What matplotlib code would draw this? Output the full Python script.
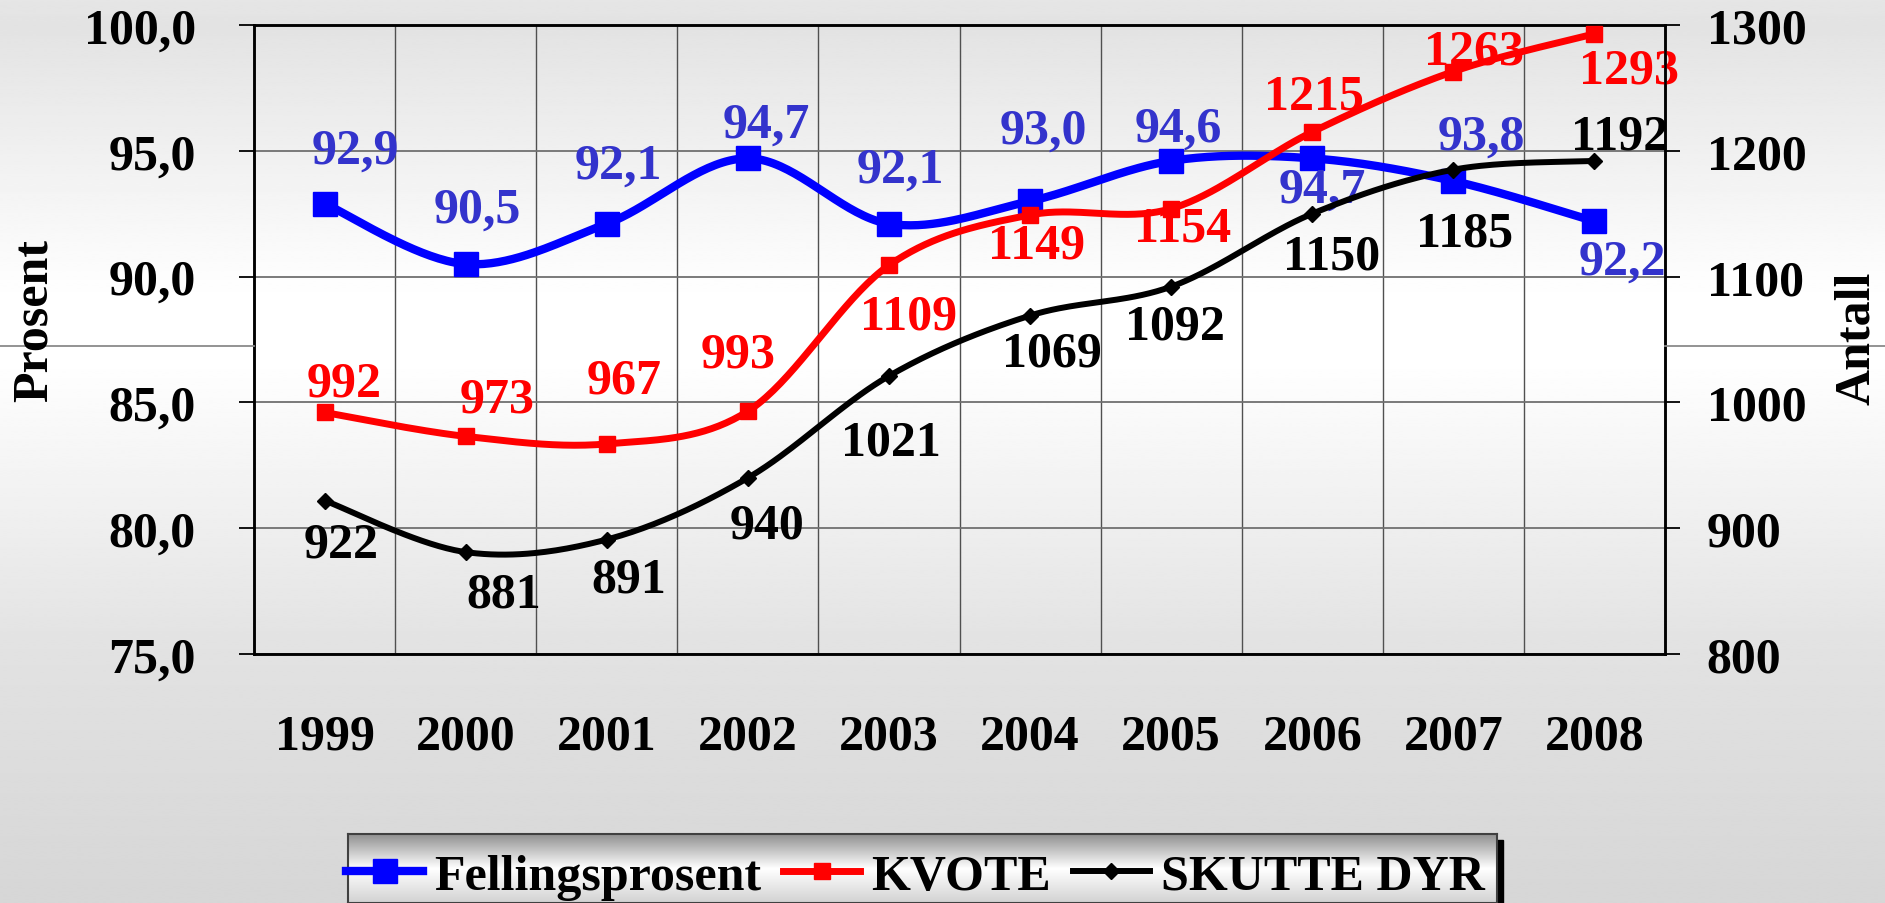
import numpy as np
import matplotlib
matplotlib.use("Agg")
from matplotlib import pyplot as plt
from matplotlib.lines import Line2D
from matplotlib.patches import Rectangle

plt.rcParams["font.family"] = ["Liberation Serif", "DejaVu Serif"]
plt.rcParams["font.weight"] = "bold"

years = ["1999", "2000", "2001", "2002", "2003", "2004", "2005", "2006", "2007", "2008"]
fellingsprosent = [92.9, 90.5, 92.1, 94.7, 92.1, 93.0, 94.6, 94.7, 93.8, 92.2]
kvote = [992, 973, 967, 993, 1109, 1149, 1154, 1215, 1263, 1293]
skutte_dyr = [922, 881, 891, 940, 1021, 1069, 1092, 1150, 1185, 1192]

# label offsets in pixels (dx right, dy down)
off_fp = [(31, -53), (12, -54), (12, -58), (18, -34), (11, -54), (13, -70), (7, -32), (10, 31), (28, -44), (28, 40)]
off_kv = [(20, -29), (31, -37), (17, -63), (-10, -57), (20, 51), (7, 31), (11, 20), (2, -35), (21, -20), (35, 37)]
off_sd = [(17, 44), (38, 42), (22, 40), (19, 48), (2, 67), (22, 38), (4, 40), (19, 43), (11, 64), (25, -24)]

W, H = 1885, 904
FS = 36


def smooth(xs, ys, n=40):
    """Bezier smoothing like the office 'smoothed line' option"""
    pts = np.column_stack([xs, ys]).astype(float)
    out = []
    for i in range(len(pts) - 1):
        p0 = pts[max(i - 1, 0)]
        p1 = pts[i]
        p2 = pts[i + 1]
        p3 = pts[min(i + 2, len(pts) - 1)]
        c1 = p1 + (p2 - p0) / 6
        c2 = p2 - (p3 - p1) / 6
        t = np.linspace(0, 1, n)[:, None]
        seg = (1 - t) ** 3 * p1 + 3 * (1 - t) ** 2 * t * c1 + 3 * (1 - t) * t ** 2 * c2 + t ** 3 * p2
        out.append(seg if i == 0 else seg[1:])
    out = np.vstack(out)
    return out[:, 0], out[:, 1]


def gradient(stops_px, stops_val, top, bottom, n=400):
    yy = np.linspace(top, bottom, n)
    g = np.interp(yy, stops_px, stops_val)
    return np.repeat(g[:, None], 2, axis=1)


fig = plt.figure(figsize=(W / 100, H / 100), dpi=100)

# background gradient for the whole picture
bg = fig.add_axes([0, 0, 1, 1], zorder=-10)
bg.imshow(gradient([0, 26, 300, 360, 655, 904], [0.90, 0.89, 1.0, 1.0, 0.885, 0.84], 0, H),
          cmap="gray", vmin=0, vmax=1, aspect="auto", extent=[0, 1, 0, 1], interpolation="bilinear")
bg.axis("off")

# stray horizontal line behind the chart
for x0, x1 in [(0, 254), (1665, W)]:
    fig.add_artist(Line2D([x0 / W, x1 / W], [1 - 347 / H] * 2, color="#8a8a8a", lw=1.3))

ax = fig.add_axes([254 / W, 1 - 655 / H, (1665 - 254) / W, (655 - 26) / H])
ax.set_facecolor("none")
ax2 = ax.twinx()

x = np.arange(len(years)) + 0.5

sx, sy = smooth(x, fellingsprosent)
ax.plot(sx, sy, color="#0000ff", lw=6, solid_capstyle="round", zorder=3)
ax.plot(x, fellingsprosent, ls="none", marker="s", ms=17, color="#0000ff", zorder=4)

sx, sy = smooth(x, kvote)
ax2.plot(sx, sy, color="#ff0000", lw=5, solid_capstyle="round", zorder=3)
ax2.plot(x, kvote, ls="none", marker="s", ms=11, color="#ff0000", zorder=4)

sx, sy = smooth(x, skutte_dyr)
ax2.plot(sx, sy, color="black", lw=4.3, solid_capstyle="round", zorder=3)
ax2.plot(x, skutte_dyr, ls="none", marker="D", ms=8, color="black", zorder=4)

for xi, v, (dx, dy) in zip(x, fellingsprosent, off_fp):
    ax.annotate(f"{v:.1f}".replace(".", ","), (xi, v), xytext=(dx, -dy), textcoords="offset pixels",
                ha="center", va="center", fontsize=FS, color="#3333cc", annotation_clip=False, zorder=5)
for xi, v, (dx, dy) in zip(x, kvote, off_kv):
    ax2.annotate(str(v), (xi, v), xytext=(dx, -dy), textcoords="offset pixels",
                 ha="center", va="center", fontsize=FS, color="#ff0000", annotation_clip=False, zorder=2)
for xi, v, (dx, dy) in zip(x, skutte_dyr, off_sd):
    ax2.annotate(str(v), (xi, v), xytext=(dx, -dy), textcoords="offset pixels",
                 ha="center", va="center", fontsize=FS, color="black", annotation_clip=False, zorder=2)

ax.set_xlim(0, len(years))
ax.set_ylim(75, 100)
ax2.set_ylim(800, 1300)
ax.set_yticks(np.arange(75, 101, 5))
ax.set_yticklabels([f"{v:.1f}".replace(".", ",") for v in np.arange(75, 101, 5)])
ax2.set_yticks(np.arange(800, 1301, 100))
ax.set_xticks(x)
ax.set_xticklabels(years)
ax.set_xticks(np.arange(1, len(years)), minor=True)

ax.grid(axis="y", which="major", color="#707070", lw=1.3)
ax.grid(axis="x", which="minor", color="#505050", lw=1.0)
ax.set_axisbelow(True)

ax.tick_params(axis="x", which="both", length=0, pad=43, labelsize=FS)
ax.tick_params(axis="y", length=11, width=1.3, pad=31, labelsize=FS, direction="out")
ax2.tick_params(axis="y", length=11, width=1.3, pad=19, labelsize=FS, direction="out")
for a in (ax, ax2):
    for sp in a.spines.values():
        sp.set_linewidth(1.8)
        sp.set_color("black")

fig.text(35 / W, 1 - 320 / H, "Prosent", rotation=90, ha="center", va="center", fontsize=FS)
fig.text(1857 / W, 1 - 338 / H, "Antall", rotation=90, ha="center", va="center", fontsize=FS)

# legend box with gradient fill and shadow
lx0, lx1, ly0 = 348, 1497, 835
fig.add_artist(Rectangle((lx1 / W, 0), 6 / W, 1 - (ly0 + 6) / H, transform=fig.transFigure,
                         color="black", zorder=5))
lax = fig.add_axes([lx0 / W, 0, (lx1 - lx0) / W, 1 - ly0 / H], zorder=6)
lax.imshow(gradient([0, 35, 69], [0.55, 1.0, 0.82], 0, 69), cmap="gray", vmin=0, vmax=1,
           aspect="auto", extent=[0, 1, 0, 1], interpolation="bilinear")
lax.set_xticks([])
lax.set_yticks([])
for sp in lax.spines.values():
    sp.set_linewidth(1.5)
    sp.set_color("#404040")

handles = [
    Line2D([], [], color="#0000ff", lw=6, marker="s", ms=17),
    Line2D([], [], color="#ff0000", lw=5, marker="s", ms=11),
    Line2D([], [], color="black", lw=4.3, marker="D", ms=8),
]
leg = lax.legend(handles, ["Fellingsprosent", "KVOTE", "SKUTTE DYR"], ncol=3, frameon=False,
                 loc="center left", bbox_to_anchor=((360 - lx0) / (lx1 - lx0) - 0.012, 0.38),
                 fontsize=FS, handlelength=1.54, handletextpad=0.22, columnspacing=0.44,
                 borderpad=0, borderaxespad=0)

fig.savefig("out.png", dpi=100)
